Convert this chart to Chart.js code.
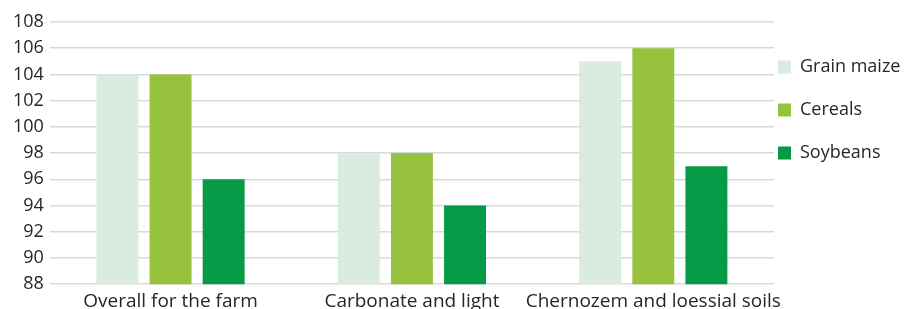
<!DOCTYPE html>
<html>
<head>
<meta charset="utf-8">
<script src="https://cdn.jsdelivr.net/npm/chart.js@4"></script>
<style>
  html, body { margin: 0; padding: 0; background: #fff; }
  #wrap { width: 911px; height: 309px; overflow: hidden; }
</style>
</head>
<body>
<div id="wrap"><canvas id="yieldChart" width="911" height="319"></canvas></div>
<script>
// Categories and series
const CATEGORIES = ['Overall for the farm', 'Carbonate and light', 'Chernozem and loessial soils'];
const GRAIN_MAIZE = [104, 98, 105];
const CEREALS = [104, 98, 106];
const SOYBEANS = [96, 94, 97];

const Y_MIN = 88;
const Y_MAX = 108;
const Y_STEP = 2;

(function() {
    'use strict';

    const ctx = document.getElementById('yieldChart').getContext('2d');
    const FONT_FAMILY = '"Open Sans", sans-serif';
    const font = { family: FONT_FAMILY, size: 18 };

    // Legend drawn to the right of the plot, items spaced like the original
    const sideLegend = {
        id: 'sideLegend',
        afterDraw(chart) {
            const c = chart.ctx;
            const x = chart.chartArea.right + 4;
            const box = 13;
            c.save();
            c.font = '18px ' + FONT_FAMILY;
            c.textBaseline = 'middle';
            c.textAlign = 'left';
            chart.data.datasets.forEach(function(ds, i) {
                const cy = 67 + i * 43;
                c.fillStyle = ds.backgroundColor;
                c.fillRect(x, cy - box / 2, box, box);
                c.fillStyle = '#262626';
                c.fillText(ds.label, x + box + 9, cy);
            });
            c.restore();
        }
    };

    new Chart(ctx, {
        type: 'bar',
        data: {
            labels: CATEGORIES,
            datasets: [
                { label: 'Grain maize', data: GRAIN_MAIZE, backgroundColor: '#DAEBDF' },
                { label: 'Cereals', data: CEREALS, backgroundColor: '#97C23D' },
                { label: 'Soybeans', data: SOYBEANS, backgroundColor: '#069A47' }
            ]
        },
        options: {
            responsive: false,
            animation: false,
            categoryPercentage: 0.66,
            barPercentage: 0.79,
            layout: { padding: { top: 22, left: 7, right: 137, bottom: 0 } },
            plugins: {
                legend: { display: false },
                tooltip: { enabled: false }
            },
            scales: {
                x: {
                    grid: { display: false, drawTicks: false },
                    border: { display: false },
                    ticks: {
                        color: '#262626',
                        font: { family: FONT_FAMILY, size: 19 },
                        padding: 6,
                        maxRotation: 0,
                        autoSkip: false
                    }
                },
                y: {
                    min: Y_MIN,
                    max: Y_MAX,
                    grid: { color: '#D9D9D9', lineWidth: 1.5, drawTicks: false },
                    border: { display: false },
                    ticks: { stepSize: Y_STEP, color: '#262626', font: font, padding: 6 }
                }
            }
        },
        plugins: [sideLegend]
    });
})();
</script>
</body>
</html>
